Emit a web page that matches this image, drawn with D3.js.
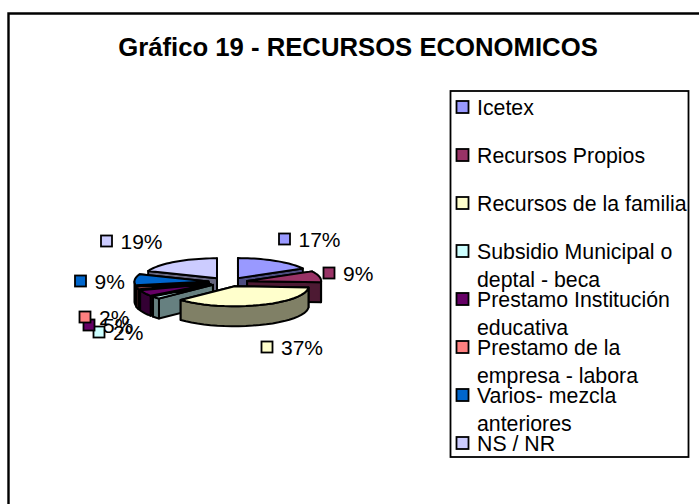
<!DOCTYPE html>
<html><head><meta charset="utf-8">
<script src="https://cdn.jsdelivr.net/npm/d3@7/dist/d3.min.js"></script>
<style>html,body{margin:0;padding:0;background:#fff}svg{display:block}text{font-family:"Liberation Sans",Arial,sans-serif;fill:#000}</style>
</head><body><svg id="c" width="699" height="504"></svg>
<script>
const categories = ["Icetex","Recursos Propios","Recursos de la familia","Subsidio Municipal o deptal - beca","Prestamo Institución educativa","Prestamo de la empresa - labora","Varios- mezcla anteriores","NS / NR"];
const legendLines = [["Icetex"],["Recursos Propios"],["Recursos de la familia"],["Subsidio Municipal o","deptal - beca"],["Prestamo Institución","educativa"],["Prestamo de la","empresa - labora"],["Varios- mezcla","anteriores"],["NS / NR"]];
const values = [17,9,37,2,5,2,9,19];
const colors = ["#9999FF","#993366","#FFFFCC","#CCFFFF","#660066","#FF8080","#0066CC","#CCCCFF"];
const labelPos = [[284.5,239],[329,273],[267,347],[99,332],[89,325],[85,317],[80.5,281],[106.5,241]];
const titleText = "Gráfico 19 - RECURSOS ECONOMICOS";

const svg = d3.select("#c");
svg.append("path").attr("d","M8.5,504V13.5H699").attr("fill","none").attr("stroke","#000").attr("stroke-width",2.4);
svg.append("text").attr("x",358).attr("y",56).attr("text-anchor","middle").attr("font-weight","bold").attr("font-size",25.7).text(titleText);

const cx=228, cy=282, rx=74, ry=20, depth=20, expl=19.6, k=ry/rx*0.85;
const arcs = d3.pie().sort(null).value(d=>d)(values).map((a,i)=>({...a,i,mid:(a.startAngle+a.endAngle)/2}));
const P=(a,ax,ay,r=1)=>[ax+rx*r*Math.sin(a), ay-ry*r*Math.cos(a)];
const darker=c=>{const q=d3.rgb(c);return d3.rgb(q.r*.5,q.g*.5,q.b*.5).formatHex();};
const line=d3.line();
const samples=(a0,a1)=>d3.range(0,25).map(j=>a0+(a1-a0)*j/24);
const g=svg.append("g").attr("stroke","#000").attr("stroke-width",2).attr("stroke-linejoin","round");
const order=[...arcs].sort((a,b)=>Math.abs(b.mid-Math.PI)-Math.abs(a.mid-Math.PI));
order.forEach(s=>{
  const ax=cx+expl*Math.sin(s.mid), ay=cy-expl*k*Math.cos(s.mid);
  const side=darker(colors[s.i]);
  const A=[ax,ay];
  const face=a=>{const p=P(a,ax,ay);return [A,p,[p[0],p[1]+depth],[ax,ay+depth]];};
  const faces=[];
  faces.push({a:s.startAngle,f:face(s.startAngle)},{a:s.endAngle,f:face(s.endAngle)});
  faces.sort((u,v)=>Math.abs(v.a-Math.PI)-Math.abs(u.a-Math.PI));
  faces.forEach(o=>g.append("path").attr("d",line(o.f)+"Z").attr("fill",side));
  const lo=Math.max(s.startAngle,Math.PI/2), hi=Math.min(s.endAngle,Math.PI*1.5);
  if(hi>lo){
    const top=samples(lo,hi).map(a=>P(a,ax,ay));
    const bot=top.map(p=>[p[0],p[1]+depth]).reverse();
    g.append("path").attr("d",line(top.concat(bot))+"Z").attr("fill",side);
  }
  const t=[A,...samples(s.startAngle,s.endAngle).map(a=>P(a,ax,ay))];
  g.append("path").attr("d",line(t)+"Z").attr("fill",colors[s.i]);
});

const fmt=d3.format(".0%"), total=d3.sum(values);
values.forEach((v,i)=>{
  const [x,y]=labelPos[i];
  svg.append("rect").attr("x",x-5.5).attr("y",y-5.5).attr("width",11).attr("height",11).attr("fill",colors[i]).attr("stroke","#000").attr("stroke-width",1.8);
  svg.append("text").attr("x",x+14).attr("y",y+8).attr("font-size",21).text(fmt(v/total));
});

svg.append("rect").attr("x",450.5).attr("y",91).attr("width",238).attr("height",366).attr("fill","#fff").attr("stroke","#000").attr("stroke-width",1.8);
const legendY=d3.scalePoint().domain(d3.range(categories.length)).range([107,443]);
legendLines.forEach((ls,i)=>{
  const y=legendY(i);
  svg.append("rect").attr("x",456.5).attr("y",y-6).attr("width",12).attr("height",12).attr("fill",colors[i]).attr("stroke","#000").attr("stroke-width",1.8);
  ls.forEach((t,j)=>svg.append("text").attr("x",477).attr("y",y+7.5+j*28.5).attr("font-size",21.3).text(t));
});
</script></body></html>
